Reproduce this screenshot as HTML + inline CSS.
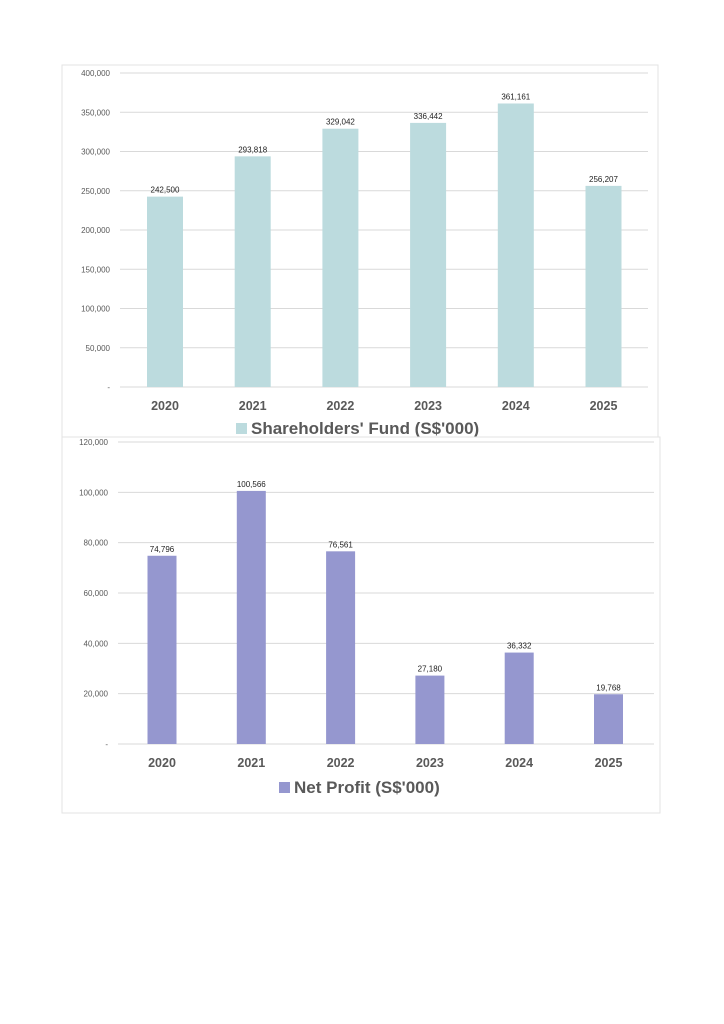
<!DOCTYPE html>
<html><head><meta charset="utf-8"><style>
body{margin:0;background:#fff;width:724px;height:1024px;overflow:hidden}
svg{position:absolute;left:0;top:0}
text{font-family:"Liberation Sans",sans-serif}
</style></head><body>
<svg id="s" width="724" height="1024"></svg>
<script>
const years=["2020","2021","2022","2023","2024","2025"];
const fundValues=[242500,293818,329042,336442,361161,256207];
const fundTicks=[0,50000,100000,150000,200000,250000,300000,350000,400000];
const profitValues=[74796,100566,76561,27180,36332,19768];
const profitTicks=[0,20000,40000,60000,80000,100000,120000];
const NS="http://www.w3.org/2000/svg";
const svg=document.getElementById('s');
function el(t,a,p){const e=document.createElementNS(NS,t);for(const k in a)e.setAttribute(k,a[k]);(p||svg).appendChild(e);return e;}
function fmt(v){return v===0?"-":v.toLocaleString('en-US');}
function chart(cfg){
  const g=el('g',{});
  
  
  const box=el('rect',{x:cfg.bx,y:cfg.by,width:cfg.bw,height:cfg.bh,fill:'none',stroke:'#e3e3e3','stroke-width':1},g);
  
  
  const max=cfg.ticks[cfg.ticks.length-1];
  const y=v=>cfg.y0-(v/max)*(cfg.y0-cfg.yTop);
  const x=i=>cfg.x0+i*cfg.step;
  cfg.ticks.forEach(t=>{
    const l=el('line',{x1:cfg.gx,x2:cfg.gx2,y1:y(t),y2:y(t),stroke:'#d9d9d9','stroke-width':1},g);
    
    
    const tx=el('text',{x:cfg.gx-10,y:y(t)+3,'text-anchor':'end','font-size':8,fill:'#595959'},g);
    tx.textContent=fmt(t);
    
    
  });
  cfg.values.forEach((v,i)=>{
    const r=el('rect',{x:x(i)-cfg.bwid/2,y:y(v),width:cfg.bwid,height:cfg.y0-y(v),fill:cfg.color},g);
    
    
    const lb=el('text',{x:x(i),y:y(v)-4,'text-anchor':'middle','font-size':8,fill:'#222'},g);
    lb.textContent=v.toLocaleString('en-US');
    
    
    const xl=el('text',{x:x(i),y:cfg.y0+23,'text-anchor':'middle','font-size':12.5,'font-weight':'bold',fill:'#595959'},g);
    xl.textContent=years[i];
    
    
  });
  const sq=el('rect',{x:cfg.lx,y:cfg.ly-11,width:11,height:11,fill:cfg.color},g);
  
  
  const lt=el('text',{x:cfg.lx+15,y:cfg.ly,'font-size':17,'font-weight':'bold',fill:'#595959'},g);
  lt.textContent=cfg.legend;
  
  
}
chart({name:'shareholders-fund-chart',bx:62,by:65,bw:596,bh:372,gx:120,gx2:648,y0:387,yTop:73,x0:165,step:87.7,bwid:36,values:fundValues,ticks:fundTicks,color:'#bcdbde',lx:236,ly:434,legend:"Shareholders' Fund (S$'000)"});
chart({name:'net-profit-chart',bx:62,by:437,bw:598,bh:376,gx:118,gx2:654,y0:744,yTop:442,x0:162,step:89.3,bwid:29,values:profitValues,ticks:profitTicks,color:'#9597cf',lx:279,ly:793,legend:"Net Profit (S$'000)"});
</script>
</body></html>
